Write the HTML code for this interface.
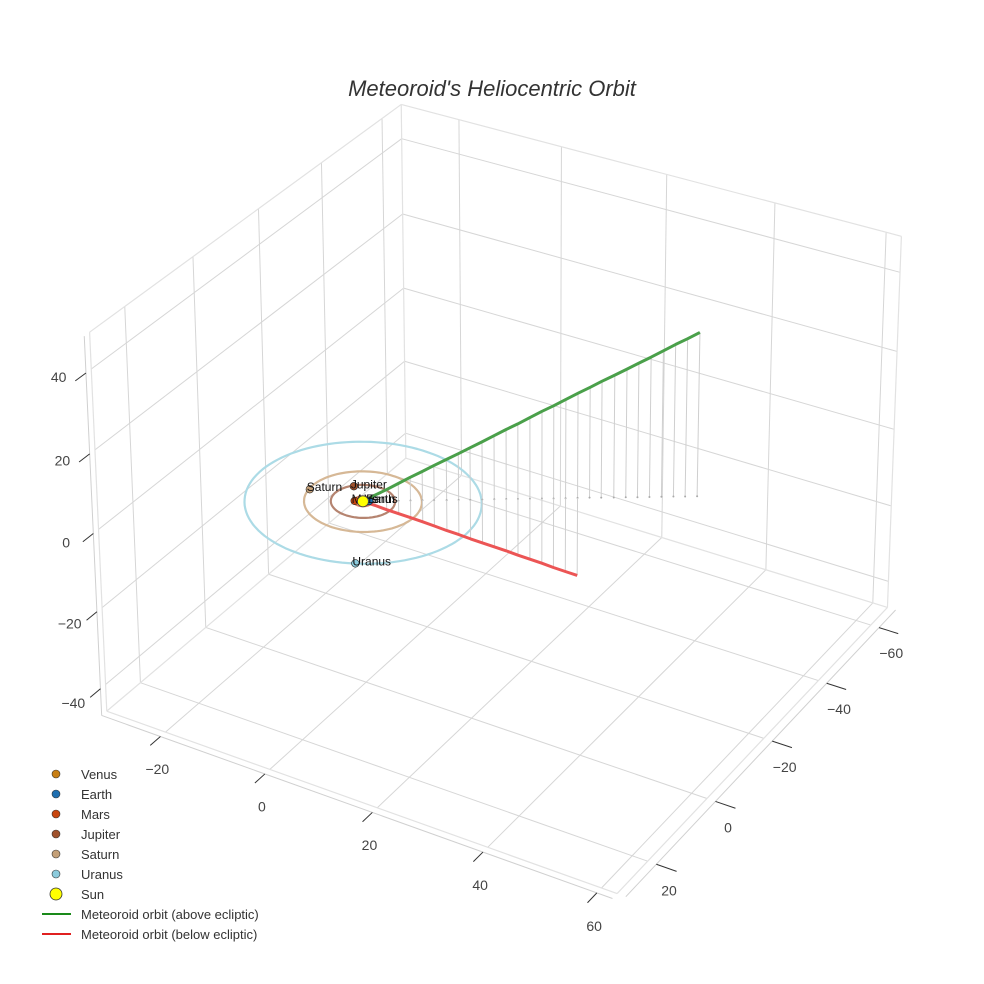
<!DOCTYPE html>
<html><head><meta charset="utf-8"><style>
body{margin:0;background:#fff}
svg{display:block;font-family:"Liberation Sans",sans-serif}
</style></head><body>
<svg id="chart" width="984" height="984" viewBox="0 0 984 984">
<rect width="984" height="984" fill="#fff"/>
<text x="492" y="96" text-anchor="middle" font-size="22" font-style="italic" fill="#333">Meteoroid's Heliocentric Orbit</text>
<g id="scene"></g>
<g id="legend"></g>
</svg>
<script>
// ---- data ----
const xTicks=[-20,0,20,40,60];
const yTicks=[-60,-40,-20,0,20];
const zTicks=[-40,-20,0,20,40];
const planetNames=["Venus","Earth","Mars","Jupiter","Saturn","Uranus"];
const planetColors=["#c87f14","#1f6fb0","#c8460f","#a0522d","#c4a078","#8ccbdc"];
const orbitRadii=[0.72,1.0,1.52,5.2,9.54,19.2];
const orbitColors=["#d9a050","#6fa8d0","#d98060","#b58470","#d6b896","#acdbe6"];
const planetX=[0.6,0.8,-1.2,-3.7,-9.3,8.8];
const planetY=[-0.4,-0.6,0.6,-3.3,1.3,17.0];
const meteorX=[0,1.6,3.2,4.8,6.4,8.0,9.6,11.3,12.9,14.5,16.1,17.7,19.3,20.9,22.5,24.1,25.7,27.3,28.9,30.5,32.1,33.8,35.4,37.0,38.6,40.2,41.8,43.4,45.0];
const meteorY=[0,-1.1,-2.1,-3.2,-4.3,-5.4,-6.4,-7.5,-8.6,-9.6,-10.7,-11.8,-12.9,-13.9,-15.0,-16.1,-17.1,-18.2,-19.3,-20.4,-21.4,-22.5,-23.6,-24.6,-25.7,-26.8,-27.9,-28.9,-30.0];
const aboveZ=[0,1.5,2.9,4.4,5.9,7.3,8.8,10.3,11.7,13.2,14.6,16.1,17.6,19.0,20.5,22.0,23.4,24.9,26.4,27.8,29.3,30.8,32.2,33.7,35.1,36.6,38.1,39.5,41.0];
const belowZ=[0,-1.1,-2.2,-3.3,-4.4,-5.5,-6.6,-7.8,-8.9,-10.0,-11.1,-12.2,-13.3,-14.4,-15.5,-16.6,-17.7,-18.8,-19.9];
const xRange=[-31.5,62.7], yRange=[-66.5,30], zRange=[-47,49];

// ---- projection (fitted camera) ----
const X0=xRange[0],X1=xRange[1],Y0=yRange[0],Y1=yRange[1],Z0=zRange[0],Z1=zRange[1];
const corr=[
 [[X1,Y1,Z0],[620,895]],[[X0,Y1,Z0],[100,727]],[[X1,Y0,Z0],[895,615]],[[X0,Y0,Z0],[402,435]],
 [[X0,Y1,Z1],[82,335]],[[X1,Y0,Z1],[910,230]],[[X0,Y0,Z1],[400,125]],[[0,0,0],[363,500]],
 [[-20,Y1+3,Z0],[165,748]],[[0,Y1+3,Z0],[272,783]],[[60,Y1+3,Z0],[603,890]],
 [[X0,Y1+3,40],[80,362]],[[X0,Y1+3,0],[89,528]],[[X0,Y1+3,-40],[97,694]],
 [[X1+3,-60,Z0],[883,632]],[[X1+3,0,Z0],[710,805]],[[X1+3,20,Z0],[649,867]]];
function solveP(){
 const A=[],b=[];
 corr.forEach(([p,s])=>{const X=p[0]/50,Y=p[1]/50,Z=p[2]/50,u=(s[0]-500)/500,v=(s[1]-500)/500;
  A.push([X,Y,Z,1,0,0,0,0,-u*X,-u*Y,-u*Z]);b.push(u);
  A.push([0,0,0,0,X,Y,Z,1,-v*X,-v*Y,-v*Z]);b.push(v);});
 const n=11,M=[];
 for(let i=0;i<n;i++){M.push([]);for(let j=0;j<=n;j++){let s=0;for(let k=0;k<A.length;k++)s+=A[k][i]*(j<n?A[k][j]:b[k]);M[i].push(s);}}
 for(let c=0;c<n;c++){let piv=c;for(let r=c+1;r<n;r++)if(Math.abs(M[r][c])>Math.abs(M[piv][c]))piv=r;
  [M[c],M[piv]]=[M[piv],M[c]];
  for(let r=0;r<n;r++){if(r===c)continue;const f=M[r][c]/M[c][c];for(let j=c;j<=n;j++)M[r][j]-=f*M[c][j];}}
 return M.map((r,i)=>r[n]/r[i]);
}
const P=solveP();
function proj(x,y,z){const X=x/50,Y=y/50,Z=z/50;const w=P[8]*X+P[9]*Y+P[10]*Z+1;
 return [((P[0]*X+P[1]*Y+P[2]*Z+P[3])/w)*500+500,((P[4]*X+P[5]*Y+P[6]*Z+P[7])/w)*500+500];}

const NS="http://www.w3.org/2000/svg";
const scene=document.getElementById('scene');
function el(tag,attrs,parent){const e=document.createElementNS(NS,tag);for(const k in attrs)e.setAttribute(k,attrs[k]);(parent||scene).appendChild(e);return e;}
function line3(a,b,stroke,w,name){const p=proj(...a),q=proj(...b);
 const e=el('line',{x1:p[0],y1:p[1],x2:q[0],y2:q[1],stroke:stroke,'stroke-width':w});
 
 return e;}
function poly3(pts,stroke,w,name){const d=pts.map(p=>proj(...p).map(v=>v.toFixed(1)).join(',')).join(' ');
 const e=el('polyline',{points:d,fill:'none',stroke:stroke,'stroke-width':w,'stroke-linejoin':'round'});
 
 return e;}

// grid walls
const G="#d6d6d6";
xTicks.forEach(x=>{line3([x,Y0,Z0],[x,Y0,Z1],G,1,'grid-line-x');line3([x,Y0,Z0],[x,Y1,Z0],G,1,'grid-line-x');});
yTicks.forEach(y=>{line3([X0,y,Z0],[X0,y,Z1],G,1,'grid-line-y');line3([X0,y,Z0],[X1,y,Z0],G,1,'grid-line-y');});
zTicks.forEach(z=>{line3([X0,Y0,z],[X0,Y1,z],G,1,'grid-line-z');line3([X0,Y0,z],[X1,Y0,z],G,1,'grid-line-z');});
// box edges
const E="#e2e2e2";
[[[X0,Y0,Z0],[X1,Y0,Z0]],[[X0,Y0,Z0],[X0,Y1,Z0]],[[X0,Y0,Z0],[X0,Y0,Z1]],[[X1,Y1,Z0],[X0,Y1,Z0]],[[X1,Y1,Z0],[X1,Y0,Z0]],
 [[X0,Y1,Z0],[X0,Y1,Z1]],[[X1,Y0,Z0],[X1,Y0,Z1]],[[X0,Y1,Z1],[X0,Y0,Z1]],[[X1,Y0,Z1],[X0,Y0,Z1]]].forEach(s=>line3(s[0],s[1],E,1.2,'box-edge'));
// axis lines + ticks + labels
line3([X0,Y1+1.5,Z0],[X1,Y1+1.5,Z0],"#d0d0d0",1,'x-axis-line');
line3([X1+1.5,Y0,Z0],[X1+1.5,Y1,Z0],"#d0d0d0",1,'y-axis-line');
line3([X0,Y1+1.5,Z0],[X0,Y1+1.5,Z1],"#d0d0d0",1,'z-axis-line');
function label(x,y,txt,name){const t=el('text',{x:x,y:y,'text-anchor':'middle','font-size':14,fill:'#444'});t.textContent=txt;
 
 }
const fmt=v=>v<0?'\u2212'+(-v):''+v;
xTicks.forEach(x=>{line3([x,Y1+1.5,Z0],[x,Y1+4.5,Z0],"#333",1,'x-tick');const p=proj(x,Y1+3,Z0);label(p[0]+2,p[1]+33,fmt(x),'x-tick-label');});
yTicks.forEach(y=>{line3([X1+1.5,y,Z0],[X1+5,y,Z0],"#333",1,'y-tick');const p=proj(X1+3,y,Z0);label(p[0]+4,p[1]+28,fmt(y),'y-tick-label');});
zTicks.forEach(z=>{line3([X0,Y1+1.5,z],[X0,Y1+4.5,z],"#333",1,'z-tick');const p=proj(X0,Y1+3,z);label(p[0]-22,p[1]+10-z*0.12,fmt(z),'z-tick-label');});

// orbits
orbitRadii.forEach((r,i)=>{const pts=[];for(let k=0;k<=120;k++){const a=k/120*2*Math.PI;pts.push([r*Math.cos(a),r*Math.sin(a),0]);}
 poly3(pts,orbitColors[i],2.2,'orbit-'+planetNames[i].toLowerCase());});

// drop lines
meteorX.forEach((x,i)=>{line3([x,meteorY[i],aboveZ[i]],[x,meteorY[i],0],"#cfcfcf",1,'drop-line-above');
 const q=proj(x,meteorY[i],0);const d=el('circle',{cx:q[0],cy:q[1],r:1,fill:'#aaa'});
 
 });
belowZ.forEach((z,i)=>line3([meteorX[i],meteorY[i],z],[meteorX[i],meteorY[i],0],"#cfcfcf",1,'drop-line-below'));

// meteoroid
poly3(meteorX.map((x,i)=>[x,meteorY[i],aboveZ[i]]),"#4aa04a",3,'meteoroid-orbit-above');
poly3(belowZ.map((z,i)=>[meteorX[i],meteorY[i],z]),"#ec5555",3,'meteoroid-orbit-below');

// planets
planetNames.forEach((n,i)=>{const p=proj(planetX[i],planetY[i],0);
 const c=el('circle',{cx:p[0],cy:p[1],r:3.8,fill:planetColors[i],stroke:'#222','stroke-width':0.6});
 
 
 const t=el('text',{x:p[0]-3,y:p[1]+2,'font-size':12,fill:'#111'});t.textContent=n;
 
 });
const s=proj(0,0,0);const sun=el('circle',{cx:s[0],cy:s[1],r:5.5,fill:'#ffff00',stroke:'#444','stroke-width':0.8});



// legend
const lg=document.getElementById('legend');
const legNames=planetNames.concat(["Sun","Meteoroid orbit (above ecliptic)","Meteoroid orbit (below ecliptic)"]);
legNames.forEach((n,i)=>{const y=774+i*20;const g=el('g',{},lg);
 
 
 if(i<6)el('circle',{cx:56,cy:y,r:4,fill:planetColors[i],stroke:'#333','stroke-width':0.6},g);
 else if(i===6)el('circle',{cx:56,cy:y,r:6,fill:'#ffff00',stroke:'#333','stroke-width':0.8},g);
 else el('line',{x1:42,y1:y,x2:71,y2:y,stroke:i===7?'#1a8a1a':'#e02020','stroke-width':2},g);
 const t=el('text',{x:81,y:y+5,'font-size':13,fill:'#333'},g);t.textContent=n;});
</script>
</body></html>
